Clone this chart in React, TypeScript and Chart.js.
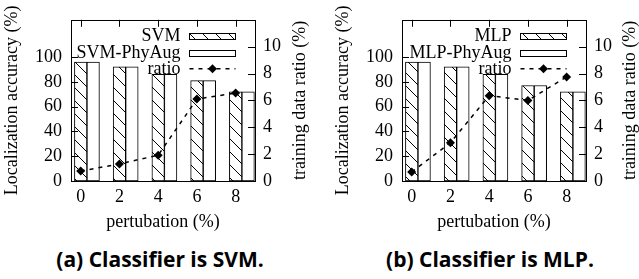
import React, { useEffect, useRef } from "react";
import { Chart, registerables } from "chart.js";

Chart.register(...registerables);

// ---- data ----
const perturbation = [0, 2, 4, 6, 8];
const svmAcc = [96, 92, 86, 81, 72];
const svmPhyAugAcc = [96, 92, 86, 81, 72];
const svmRatio = [0.74, 1.27, 1.92, 6.1, 6.55];
const mlpAcc = [96, 92, 86, 77, 72];
const mlpPhyAugAcc = [96, 92, 86, 77, 72];
const mlpRatio = [0.67, 2.85, 6.35, 6.0, 7.75];
const accTicks = [0, 20, 40, 60, 80, 100];
const ratioTicks = [0, 2, 4, 6, 8, 10];

// ---- style ----
const X_MIN = -0.5;
const X_MAX = 9.0;
const BAR_THICKNESS = 12.5;
const SERIF = "'Liberation Serif', 'DejaVu Serif', serif";
const FONT = { family: SERIF, size: 18 };

function makeHatch(): CanvasPattern | string {
  const s = 13;
  const c = document.createElement("canvas");
  c.width = s;
  c.height = s;
  const g = c.getContext("2d");
  if (!g) return "#fff";
  g.fillStyle = "#fff";
  g.fillRect(0, 0, s, s);
  g.strokeStyle = "#000";
  g.lineWidth = 1;
  g.beginPath();
  for (const k of [-1, 0, 1]) {
    g.moveTo(k * s, 0);
    g.lineTo(k * s + s, s);
  }
  g.stroke();
  const p = g.createPattern(c, "repeat");
  return p || "#fff";
}

const overlayPlugin = {
  id: "overlay",
  afterDraw(chart: any, _args: any, opts: any) {
    const { ctx, chartArea, scales } = chart;
    const { left, right, top, bottom } = chartArea;
    ctx.save();
    ctx.strokeStyle = "#000";
    ctx.fillStyle = "#000";
    ctx.lineWidth = 1;
    const T = 7;
    ctx.beginPath();
    for (const v of perturbation) {
      const px = Math.round(scales.x.getPixelForValue(v)) + 0.5;
      ctx.moveTo(px, top);
      ctx.lineTo(px, top + T);
    }
    for (const v of accTicks) {
      const py = Math.round(scales.y.getPixelForValue(v)) + 0.5;
      ctx.moveTo(left, py);
      ctx.lineTo(left + T, py);
    }
    for (const v of ratioTicks) {
      const py = Math.round(scales.y2.getPixelForValue(v)) + 0.5;
      ctx.moveTo(right, py);
      ctx.lineTo(right - T, py);
    }
    ctx.stroke();
    ctx.strokeRect(
      Math.round(left) + 0.5,
      Math.round(top) + 0.5,
      Math.round(right) - Math.round(left),
      Math.round(bottom) - Math.round(top)
    );

    // legend (gnuplot style: text right-aligned, sample on the right)
    const sL = Math.round(right - 66) + 0.5;
    const sR = Math.round(right - 20) + 0.5;
    const rows = [top + 16, top + 33, top + 49];
    const labels: string[] = opts.labels;
    ctx.font = `18px ${SERIF}`;
    ctx.textAlign = "right";
    ctx.textBaseline = "middle";
    for (let i = 0; i < labels.length; i++) {
      ctx.fillStyle = "#000";
      ctx.fillText(labels[i], sL - 9, rows[i]);
    }
    // hatch box
    ctx.fillStyle = opts.hatch;
    ctx.fillRect(sL, Math.round(rows[0]) - 3, sR - sL, 6);
    ctx.strokeRect(sL, Math.round(rows[0]) - 3 + 0.5, sR - sL, 6);
    // plain box
    ctx.fillStyle = "#fff";
    ctx.fillRect(sL, Math.round(rows[1]) - 3, sR - sL, 6);
    ctx.strokeRect(sL, Math.round(rows[1]) - 3 + 0.5, sR - sL, 6);
    // dashed line with diamond
    ctx.lineWidth = 1.5;
    ctx.setLineDash([4, 5]);
    ctx.beginPath();
    ctx.moveTo(sL, rows[2]);
    ctx.lineTo(sR, rows[2]);
    ctx.stroke();
    ctx.setLineDash([]);
    const cx = (sL + sR) / 2;
    const cy = rows[2];
    ctx.fillStyle = "#000";
    ctx.beginPath();
    ctx.moveTo(cx, cy - 4.5);
    ctx.lineTo(cx + 4.5, cy);
    ctx.lineTo(cx, cy + 4.5);
    ctx.lineTo(cx - 4.5, cy);
    ctx.closePath();
    ctx.fill();

    // right axis title, reading bottom to top
    ctx.translate(opts.rightTitleX, (top + bottom) / 2);
    ctx.rotate(-Math.PI / 2);
    ctx.textAlign = "center";
    ctx.textBaseline = "middle";
    ctx.fillStyle = "#000";
    ctx.font = `18px ${SERIF}`;
    ctx.fillText(opts.rightTitle, 0, 0);
    ctx.restore();
  },
};

type PanelProps = {
  left: number;
  width: number;
  height: number;
  acc: number[];
  phyAcc: number[];
  ratio: number[];
  accLabel: string;
  phyLabel: string;
  yWidth: number;
  y2Width: number;
  yTitlePad: number;
  rightTitleX: number;
};

function Panel(p: PanelProps) {
  const ref = useRef<HTMLCanvasElement>(null);
  useEffect(() => {
    if (!ref.current) return;
    const hatch = makeHatch();
    const chart = new Chart(ref.current, {
      type: "bar",
      data: {
        datasets: [
          {
            // empty slot first: gnuplot places the bar pair just right of each tick
            type: "bar",
            label: "",
            data: perturbation.map((x) => ({ x, y: null })),
            backgroundColor: "rgba(0,0,0,0)",
            borderWidth: 0,
            barThickness: BAR_THICKNESS,
            order: 2,
          },
          {
            type: "bar",
            label: p.accLabel,
            data: perturbation.map((x, i) => ({ x, y: p.acc[i] })),
            backgroundColor: hatch as any,
            borderColor: "#000",
            borderWidth: 1,
            borderSkipped: false,
            barThickness: BAR_THICKNESS,
            order: 2,
          },
          {
            type: "bar",
            label: p.phyLabel,
            data: perturbation.map((x, i) => ({ x, y: p.phyAcc[i] })),
            backgroundColor: "#fff",
            borderColor: "#000",
            borderWidth: 1,
            borderSkipped: false,
            barThickness: BAR_THICKNESS,
            order: 2,
          },
          {
            type: "line",
            label: "ratio",
            data: perturbation.map((x, i) => ({ x, y: p.ratio[i] })),
            yAxisID: "y2",
            borderColor: "#000",
            borderWidth: 1.5,
            borderDash: [4, 5],
            pointStyle: "rectRot",
            pointRadius: 4.5,
            pointBackgroundColor: "#000",
            pointBorderColor: "#000",
            pointBorderWidth: 0,
            fill: false,
            tension: 0,
            order: 1,
          },
        ] as any,
      },
      options: {
        responsive: false,
        animation: false,
        events: [],
        layout: { padding: { top: 14, left: 0, right: 0, bottom: 0 } },
        plugins: {
          legend: { display: false },
          tooltip: { enabled: false },
          overlay: {
            rightTitle: "training data ratio (%)",
            rightTitleX: p.rightTitleX,
            labels: [p.accLabel, p.phyLabel, "ratio"],
            hatch,
          },
        } as any,
        scales: {
          x: {
            type: "linear",
            position: "bottom",
            offset: false,
            min: X_MIN,
            max: X_MAX,
            afterBuildTicks: (s: any) => {
              s.ticks = perturbation.map((v) => ({ value: v }));
            },
            ticks: { font: FONT, color: "#000", padding: 5, maxRotation: 0, autoSkip: false },
            grid: { display: false, drawTicks: false, offset: false },
            border: { display: false },
            title: {
              display: true,
              text: "pertubation (%)",
              font: FONT,
              color: "#000",
              padding: { top: 0, bottom: 7 },
            },
            afterFit: (s: any) => {
              s.height = 59;
            },
          },
          y: {
            type: "linear",
            position: "left",
            min: 0,
            max: 130,
            afterBuildTicks: (s: any) => {
              s.ticks = accTicks.map((v) => ({ value: v }));
            },
            ticks: { font: FONT, color: "#000", padding: 9 },
            grid: { display: false, drawTicks: false },
            border: { display: false },
            title: {
              display: true,
              text: "Localization accuracy (%)",
              font: FONT,
              color: "#000",
              padding: { top: p.yTitlePad, bottom: 0 },
            },
            afterFit: (s: any) => {
              s.width = p.yWidth;
            },
          },
          y2: {
            type: "linear",
            position: "right",
            min: 0,
            max: 12,
            afterBuildTicks: (s: any) => {
              s.ticks = ratioTicks.map((v) => ({ value: v }));
            },
            ticks: { font: FONT, color: "#000", padding: 8 },
            grid: { display: false, drawTicks: false },
            border: { display: false },
            afterFit: (s: any) => {
              s.width = p.y2Width;
            },
          },
        } as any,
      },
      plugins: [overlayPlugin],
    });
    return () => chart.destroy();
  }, []);
  return (
    <canvas
      ref={ref}
      width={p.width}
      height={p.height}
      style={{ position: "absolute", left: p.left, top: 0, width: p.width, height: p.height }}
    />
  );
}

const captionStyle: React.CSSProperties = {
  position: "absolute",
  top: 246,
  width: 320,
  textAlign: "center",
  fontFamily: "'Open Sans', 'Noto Sans', sans-serif",
  fontWeight: 700,
  fontSize: 21,
  lineHeight: "26px",
  color: "#000",
  whiteSpace: "nowrap",
};

export default function App() {
  return (
    <div
      style={{
        position: "absolute",
        left: 0,
        top: 0,
        width: 639,
        height: 279,
        background: "#fff",
        overflow: "hidden",
      }}
    >
      <Panel
        left={0}
        width={320}
        height={240}
        acc={svmAcc}
        phyAcc={svmPhyAugAcc}
        ratio={svmRatio}
        accLabel="SVM"
        phyLabel="SVM-PhyAug"
        yWidth={71}
        y2Width={65}
        yTitlePad={1}
        rightTitleX={300}
      />
      <Panel
        left={320}
        width={319}
        height={240}
        acc={mlpAcc}
        phyAcc={mlpPhyAugAcc}
        ratio={mlpRatio}
        accLabel="MLP"
        phyLabel="MLP-PhyAug"
        yWidth={82}
        y2Width={53}
        yTitlePad={12}
        rightTitleX={310}
      />
      <div style={{ ...captionStyle, left: 0 }}>(a) Classifier is SVM.</div>
      <div style={{ ...captionStyle, left: 330 }}>(b) Classifier is MLP.</div>
    </div>
  );
}
